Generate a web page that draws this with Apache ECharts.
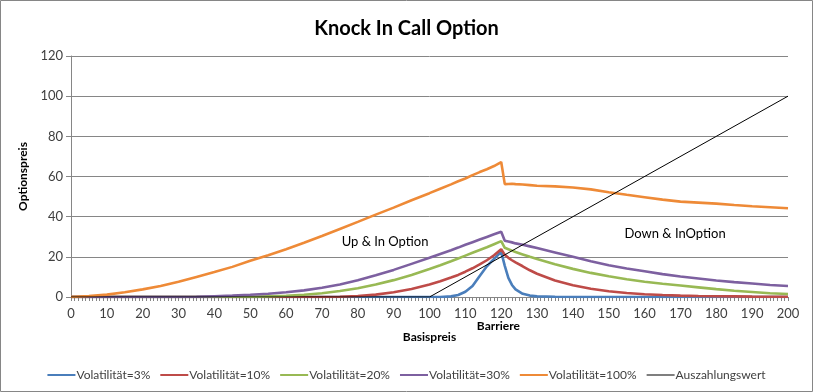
<!DOCTYPE html>
<html><head><meta charset="utf-8">
<script src="https://cdn.jsdelivr.net/npm/echarts@6/dist/echarts.min.js"></script>
<style>html,body{margin:0;padding:0;background:#fff}#c{width:813px;height:392px}</style>
</head><body><div id="c"></div>
<script>
// Basispreis sample positions
const xs = [0,5,10,15,20,25,30,35,40,45,50,55,60,65,70,75,80,85,90,95,100,
  103,106,108,110,112,114,116,118,120,
  121,122,123,124,126,128,130,
  135,140,145,150,155,160,165,170,175,180,185,190,195,200];
const vol3 = [0,0,0,0,0,0,0,0,0,0,0,0,0,0,0,0,0,0,0,0,0,
  0,0.3,1,2.6,5.5,10.5,15.3,19,22.5,
  15.5,9.5,6,3.8,1.6,0.7,0.3,
  0.1,0,0,0,0,0,0,0,0,0,0,0,0,0];
const vol10 = [0,0,0,0,0,0,0,0,0,0,0,0,0,0,0,0.15,0.5,1.2,2.4,4,6.2,
  7.8,9.7,11,12.6,14.3,16.2,18.3,20.8,23.8,
  21,19.5,18.3,17.2,15.3,13.3,11.6,
  8.2,5.9,4.1,2.9,2,1.4,1,0.7,0.5,0.4,0.3,0.2,0.15,0.1];
const vol20 = [0,0,0,0,0,0,0,0,0,0,0,0.3,0.6,1.1,1.9,3,4.4,6.2,8.4,11,13.9,
  15.8,17.8,19.2,20.6,22,23.4,24.8,26.3,27.8,
  24.5,23.8,23.1,22.4,21.2,20,18.9,
  16.3,14,12,10.3,8.8,7.6,6.6,5.7,4.8,3.9,3.1,2.5,1.9,1.5];
const vol30 = [0,0,0,0,0,0,0,0.1,0.4,0.7,1.1,1.6,2.4,3.3,4.6,6.2,8.3,10.8,13.5,16.5,19.5,
  21.4,23.3,24.6,26,27.3,28.6,29.9,31.2,32.5,
  28,27.6,27.2,26.7,26,25.2,24.4,
  22.2,20,17.8,15.8,14.2,12.8,11.4,10.2,9.2,8.2,7.4,6.7,6,5.5];
const vol100 = [0,0.5,1.2,2.4,3.8,5.5,7.6,10,12.4,15,18,20.8,23.8,27,30.4,33.9,37.4,41,44.5,48.2,51.7,
  53.9,56.1,57.6,59,60.7,62.2,63.6,65.2,67.2,
  56.2,56.3,56.4,56.2,56,55.7,55.4,
  55.1,54.5,53.6,52.2,50.9,49.7,48.5,47.5,47,46.5,45.8,45.2,44.7,44.2];
const payoffX = [0,100,200];
const payoffY = [0,0,100];
const seriesNames = ['Volatilität=3%','Volatilität=10%','Volatilität=20%','Volatilität=30%','Volatilität=100%','Auszahlungswert'];
const seriesColors = ['#4A7EBB','#BE4B48','#98B954','#7D60A0','#EE8A37','#000000'];
const annotations = [
  {text:'Up & In Option', x:87.6, y:27.4},
  {text:'Down & InOption', x:168.5, y:31.4}
];
const barrier = 119.2;

const font = 'Lato, "Open Sans", sans-serif';
const volData = [vol3, vol10, vol20, vol30, vol100];
const series = volData.map((v,i)=>({
  name: seriesNames[i], type:'line', symbol:'none', smooth:false,
  data: xs.map((x,j)=>[x, v[j]]),
  lineStyle:{width:2.6, color:seriesColors[i]}, itemStyle:{color:seriesColors[i]},
  z: 2+i
}));
series.push({
  name: seriesNames[5], type:'line', symbol:'none',
  data: payoffX.map((x,j)=>[x, payoffY[j]]),
  lineStyle:{width:1, color:'#000'}, itemStyle:{color:'#000'}, z:10
});

// legend icons: plain horizontal strokes (thick for volatilities, thin for payoff)
const thick = 'path://M0,0h28v0.05H0z M0,0.6h28v1.8H0z M0,2.95h28v0.05H0z';
const thin = 'path://M0,0h28v0.05H0z M0,1.1h28v0.9H0z M0,2.95h28v0.05H0z';
const legendData = seriesNames.map((n,i)=>({name:n, icon: i<5 ? thick : thin,
  itemStyle:{color:seriesColors[i]}}));

const chart = echarts.init(document.getElementById('c'), null, {renderer:'canvas'});
chart.setOption({
  animation:false,
  textStyle:{fontFamily:font},
  title:{text:'Knock In Call Option', left:'center', top:14,
    textStyle:{fontFamily:font, fontSize:20, fontWeight:'bold', color:'#000'}},
  grid:{left:71, right:25, top:56, bottom:95, containLabel:false},
  legend:{bottom:6, left:'center', itemWidth:28, itemHeight:3, itemGap:10,
    data: legendData,
    textStyle:{fontFamily:font, fontSize:12, color:'#404040', padding:[0,0,0,-4]}},
  xAxis:{type:'value', min:0, max:200, interval:10,
    axisLine:{lineStyle:{color:'#868686', width:1}},
    axisTick:{show:true, length:4, lineStyle:{color:'#868686'}},
    minorTick:{show:true, splitNumber:10, length:4, lineStyle:{color:'#868686'}},
    splitLine:{show:false},
    axisLabel:{color:'#404040', fontSize:13, margin:10, fontFamily:font},
    name:'Basispreis', nameLocation:'middle', nameGap:34,
    nameTextStyle:{fontFamily:font, fontSize:12, fontWeight:'bold', color:'#000'}},
  yAxis:{type:'value', min:0, max:120, interval:20,
    axisLine:{show:true, lineStyle:{color:'#868686', width:1}},
    axisTick:{show:true, length:5, lineStyle:{color:'#868686'}},
    splitLine:{show:true, lineStyle:{color:'#868686', width:1}},
    axisLabel:{color:'#404040', fontSize:13, margin:8, fontFamily:font},
    name:'Optionspreis', nameLocation:'middle', nameGap:38,
    nameTextStyle:{fontFamily:font, fontSize:12, fontWeight:'bold', color:'#000'}},
  series: series
});

const gfx = [{type:'rect', shape:{x:0.5,y:0.5,width:812,height:391}, style:{fill:null, stroke:'#868686', lineWidth:1}, silent:true}];
annotations.forEach(a=>{
  const p = chart.convertToPixel({gridIndex:0}, [a.x, a.y]);
  gfx.push({type:'text', x:p[0], y:p[1], style:{text:a.text, fontFamily:font, fontSize:13, fill:'#000', align:'center', verticalAlign:'middle'}, z:20});
});
const bp = chart.convertToPixel({gridIndex:0}, [barrier, 0]);
gfx.push({type:'text', x:bp[0], y:bp[1]+29, style:{text:'Barriere', fontFamily:font, fontSize:12, fontWeight:'bold', fill:'#000', align:'center', verticalAlign:'middle'}, z:20});
chart.setOption({graphic: gfx});
</script></body></html>
